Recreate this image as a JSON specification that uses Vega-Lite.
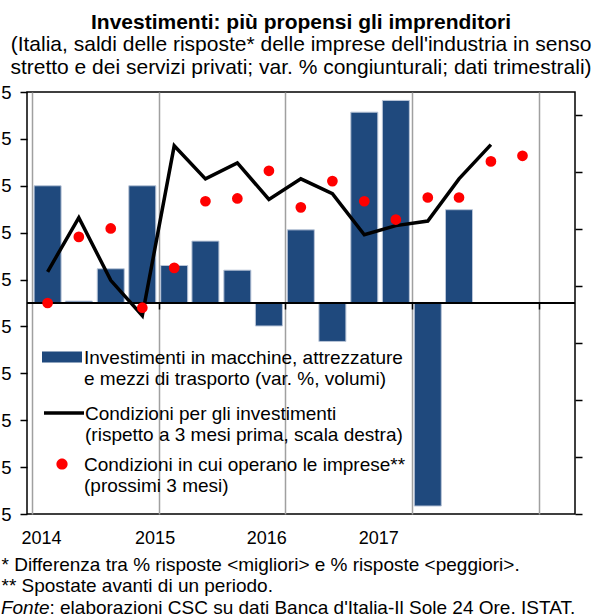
{
  "$schema": "https://vega.github.io/schema/vega-lite/v6.json",
  "width": 548,
  "height": 422,
  "autosize": {"type": "none"},
  "padding": {"left": 27, "top": 92, "right": 18, "bottom": 100},
  "background": "white",
  "config": {
    "font": "Liberation Sans",
    "view": {"stroke": "black", "strokeWidth": 1.5},
    "axis": {
      "domain": false,
      "labelFont": "Liberation Sans",
      "labelFontSize": 18.5,
      "labelColor": "black",
      "titleFont": "Liberation Sans",
      "titleFontSize": 19,
      "titleColor": "black",
      "titleFontWeight": "normal"
    },
    "legend": {
      "orient": "none",
      "title": null,
      "padding": 0,
      "labelFont": "Liberation Sans",
      "labelFontSize": 19,
      "labelColor": "black",
      "labelLineHeight": 23.5,
      "labelBaseline": "top",
      "labelLimit": 0,
      "symbolSize": 1600,
      "symbolOpacity": 1
    }
  },
  "title": {
    "text": "Investimenti: più propensi gli imprenditori",
    "subtitle": [
      "(Italia, saldi delle risposte*  delle imprese dell'industria in senso",
      "stretto e dei servizi privati; var. % congiunturali;  dati trimestrali)"
    ],
    "anchor": "middle",
    "frame": "group",
    "font": "Liberation Sans",
    "fontSize": 21,
    "fontWeight": "bold",
    "color": "black",
    "subtitleFont": "Liberation Sans",
    "subtitleFontSize": 21,
    "subtitleColor": "black",
    "subtitleLineHeight": 23,
    "subtitlePadding": 1,
    "offset": 5
  },
  "data": {
    "values": [
      {"date": "2014-02-15", "inv": 2.5, "cinv": 1.25, "cimp": 0.0},
      {"date": "2014-05-16", "inv": 0.04, "cinv": 6.0, "cimp": 1.41},
      {"date": "2014-08-16", "inv": 0.73, "cinv": 0.5, "cimp": 1.59},
      {"date": "2014-11-15", "inv": 2.5, "cinv": -2.6, "cimp": -0.1},
      {"date": "2015-02-15", "inv": 0.8, "cinv": 12.3, "cimp": 0.75},
      {"date": "2015-05-16", "inv": 1.32, "cinv": 9.4, "cimp": 2.17},
      {"date": "2015-08-16", "inv": 0.7, "cinv": 10.8, "cimp": 2.23},
      {"date": "2015-11-15", "inv": -0.49, "cinv": 7.6, "cimp": 2.82},
      {"date": "2016-02-15", "inv": 1.56, "cinv": 9.4, "cimp": 2.04},
      {"date": "2016-05-16", "inv": -0.82, "cinv": 8.1, "cimp": 2.6},
      {"date": "2016-08-16", "inv": 4.07, "cinv": 4.5, "cimp": 2.17},
      {"date": "2016-11-15", "inv": 4.32, "cinv": 5.3, "cimp": 1.78},
      {"date": "2017-02-15", "inv": -4.33, "cinv": 5.7, "cimp": 2.25},
      {"date": "2017-05-16", "inv": 1.99, "cinv": 9.4, "cimp": 2.25},
      {"date": "2017-08-16", "cinv": 12.4, "cimp": 3.02},
      {"date": "2017-11-15", "cimp": 3.14}
    ]
  },
  "layer": [
    {
      "mark": {"type": "bar", "width": 27, "stroke": "#B9C5D8", "strokeWidth": 1},
      "encoding": {
        "x": {
          "field": "date",
          "type": "temporal",
          "scale": {"type": "utc", "domain": [{"year": 2014, "month": 1, "date": 1, "utc": true}, {"year": 2018, "month": 4, "date": 1, "utc": true}]},
          "axis": {
            "orient": "bottom",
            "values": [{"year": 2014, "utc": true}, {"year": 2015, "utc": true}, {"year": 2016, "utc": true}, {"year": 2017, "utc": true}, {"year": 2018, "utc": true}],
            "grid": true,
            "gridColor": "#A0A0A0",
            "gridWidth": 1.5,
            "ticks": false,
            "tickSize": 0,
            "labelPadding": 15,
            "labelFontSize": 18,
            "labelAlign": "center",
            "labelExpr": "utcyear(datum.value) == 2018 ? '' : utcFormat(datum.value, '%Y')",
            "labelOffset": {
              "condition": [
                {"test": "utcyear(datum.value) == 2014", "value": 9},
                {"test": "utcyear(datum.value) == 2015", "value": -4},
                {"test": "utcyear(datum.value) == 2016", "value": -19},
                {"test": "utcyear(datum.value) == 2017", "value": -34}
              ],
              "value": 0
            },
            "title": ["* Differenza tra % risposte <migliori> e % risposte <peggiori>.", "** Spostate avanti di un periodo."],
            "titleAlign": "left",
            "titleAnchor": "start",
            "titleBaseline": "top",
            "titleLineHeight": 21.5,
            "titleX": -26,
            "titleY": 41
          }
        },
        "y": {
          "field": "inv",
          "type": "quantitative",
          "scale": {"domain": [-4.5, 4.5], "nice": false, "zero": false},
          "axis": {
            "orient": "left",
            "values": [-4.5, -3.5, -2.5, -1.5, -0.5, 0.5, 1.5, 2.5, 3.5, 4.5],
            "format": ".1f",
            "grid": false,
            "tickSize": 7,
            "tickColor": "black",
            "tickWidth": 1.5,
            "labelPadding": 9,
            "title": "Fonte",
            "titleAngle": 0,
            "titleAlign": "right",
            "titleBaseline": "alphabetic",
            "titleFontStyle": "italic",
            "titleX": 22,
            "titleY": 521
          }
        },
        "fill": {
          "datum": "Investimenti in macchine, attrezzature\ne mezzi  di trasporto (var. %, volumi)",
          "type": "nominal",
          "scale": {"range": ["#1F497D"]},
          "legend": {
            "legendX": 15,
            "legendY": 237,
            "labelOffset": 2,
            "labelExpr": "split(datum.label, '\\n')",
            "symbolType": "M-1,0.13H1V0.67H-1Z",
            "symbolStrokeWidth": 0
          }
        }
      }
    },
    {
      "mark": {"type": "rule", "color": "black", "strokeWidth": 1.5},
      "encoding": {
        "y": {"datum": 0, "type": "quantitative", "scale": {"domain": [-4.5, 4.5], "nice": false, "zero": false}, "axis": null}
      }
    },
    {
      "mark": {"type": "line", "strokeWidth": 3.5, "strokeJoin": "miter", "strokeCap": "butt"},
      "encoding": {
        "x": {
          "field": "date",
          "type": "temporal",
          "scale": {"type": "utc", "domain": [{"year": 2014, "month": 1, "date": 1, "utc": true}, {"year": 2018, "month": 4, "date": 1, "utc": true}]},
          "axis": {
            "orient": "bottom",
            "offset": -211,
            "values": [{"year": 2015, "utc": true}, {"year": 2016, "utc": true}, {"year": 2017, "utc": true}, {"year": 2018, "utc": true}],
            "ticks": true,
            "tickSize": 6,
            "tickColor": "black",
            "tickWidth": 1.5,
            "labels": false,
            "grid": false,
            "domain": false,
            "title": null
          }
        },
        "y": {
          "field": "cinv",
          "type": "quantitative",
          "scale": {"domain": [-20, 17.02], "nice": false, "zero": false},
          "axis": {
            "orient": "right",
            "values": [-20, -15, -10, -5, 0, 5, 10, 15],
            "labels": false,
            "grid": false,
            "tickSize": 7,
            "tickColor": "black",
            "tickWidth": 1.5,
            "title": ": elaborazioni CSC su dati Banca d'Italia-Il Sole 24 Ore, ISTAT.",
            "titleAngle": 0,
            "titleAlign": "left",
            "titleBaseline": "alphabetic",
            "titleX": -526,
            "titleY": 521
          }
        },
        "stroke": {
          "datum": "Condizioni per gli investimenti\n(rispetto a 3 mesi prima, scala destra)",
          "type": "nominal",
          "scale": {"range": ["#000000"]},
          "legend": {
            "legendX": 15,
            "legendY": 291,
            "labelOffset": -1,
            "labelExpr": "split(datum.label, '\\n')",
            "symbolType": "M-1,0.4H1",
            "symbolStrokeWidth": 3.5
          }
        }
      }
    },
    {
      "mark": {"type": "point", "filled": true, "size": 115, "color": "#FF0000"},
      "encoding": {
        "x": {"field": "date", "type": "temporal", "scale": {"type": "utc", "domain": [{"year": 2014, "month": 1, "date": 1, "utc": true}, {"year": 2018, "month": 4, "date": 1, "utc": true}]}, "axis": null},
        "y": {"field": "cimp", "type": "quantitative", "scale": {"domain": [-4.5, 4.5], "nice": false, "zero": false}, "axis": null},
        "opacity": {
          "datum": "Condizioni in cui operano le imprese**\n(prossimi 3 mesi)",
          "type": "nominal",
          "scale": {"range": [1]},
          "legend": {
            "legendX": 15,
            "legendY": 344,
            "labelOffset": 2,
            "labelExpr": "split(datum.label, '\\n')",
            "symbolType": "M-0.28,0.4A0.28,0.28 0 1,1 0.28,0.4A0.28,0.28 0 1,1 -0.28,0.4Z",
            "symbolFillColor": "#FF0000",
            "symbolStrokeWidth": 0
          }
        }
      }
    }
  ],
  "resolve": {"scale": {"y": "independent"}, "axis": {"x": "independent", "y": "independent"}}
}
